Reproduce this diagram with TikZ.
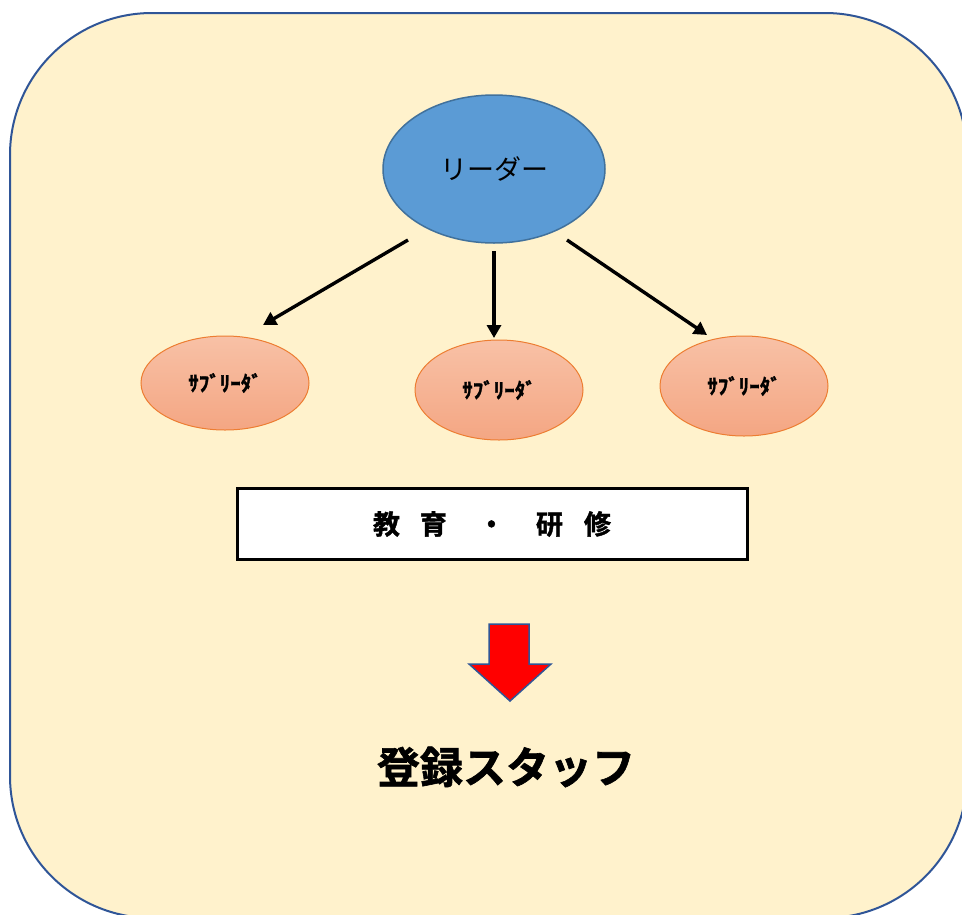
\documentclass[tikz,border=0pt]{standalone}
\usepackage{fontspec}
\newfontfamily\jp{Noto Sans CJK JP}
\newfontfamily\jpheavy{Noto Sans CJK JP Bold}[FakeBold=1.5]
\usetikzlibrary{shapes.geometric,arrows.meta}
\definecolor{bgc}{HTML}{FFF2CC}
\definecolor{framec}{HTML}{2F5597}
\definecolor{leadfill}{HTML}{5B9BD5}
\definecolor{leadline}{HTML}{41719C}
\definecolor{subtop}{HTML}{F8C1A6}
\definecolor{subbot}{HTML}{F4A683}
\definecolor{subline}{HTML}{ED7D31}
\tikzset{
  leader/.style={ellipse,draw=leadline,line width=1.5pt,fill=leadfill,minimum width=222pt,minimum height=148pt,inner sep=0pt,font=\jp\fontsize{27pt}{30pt}\selectfont},
  subleader/.style={ellipse,draw=subline,line width=1pt,top color=subtop,bottom color=subbot,minimum width=168pt,inner sep=0pt,font=\jpheavy\fontsize{21pt}{24pt}\selectfont},
  arr/.style={line width=3.4pt,-{Triangle[length=13pt,width=14pt]}},
  trainbox/.style={draw=black,line width=3pt,fill=white,minimum width=510pt,minimum height=71pt,inner sep=0pt,font=\jpheavy\fontsize{27pt}{30pt}\selectfont},
  bigtext/.style={font=\jpheavy\fontsize{43pt}{48pt}\selectfont,inner sep=0pt},
  redarrow/.style={fill=red,draw=framec,line width=1.5pt,line join=miter}
}
\begin{document}
\begin{tikzpicture}[x=1pt,y=-1pt]
\useasboundingbox (0,0) rectangle (962,914);
\begin{scope}
\clip (0,0) rectangle (962,914);
\draw[fill=bgc,draw=framec,line width=2pt,rounded corners=142pt] (10,13) rectangle (967,918);
\end{scope}
\node[leader] (L) at (494,169) {リーダー};
\node[subleader,minimum height=94pt] (S1) at (225,383) {ｻﾌﾞﾘｰﾀﾞ};
\node[subleader,minimum height=100pt] (S2) at (499,390) {ｻﾌﾞﾘｰﾀﾞ};
\node[subleader,minimum height=100pt] (S3) at (744,386) {ｻﾌﾞﾘｰﾀﾞ};
\coordinate (a1s) at (408,240);
\coordinate (a1e) at (263,325);
\coordinate (a2s) at (494,251);
\coordinate (a2e) at (494,338);
\coordinate (a3s) at (567,240);
\coordinate (a3e) at (707,335);
\draw[arr] (a1s) -- (a1e);
\draw[arr] (a2s) -- (a2e);
\draw[arr] (a3s) -- (a3e);
\node[trainbox] (T) at (492,524) {教\hspace{20pt}育\hspace{31pt}・\hspace{31pt}研\hspace{21pt}修};
\draw[redarrow] (489,624) -- (529,624) -- (529,664) -- (551,664) -- (510,701) -- (469,664) -- (489,664) -- cycle;
\node[bigtext] (R) at (506,767) {登録スタッフ};
\end{tikzpicture}
\end{document}
